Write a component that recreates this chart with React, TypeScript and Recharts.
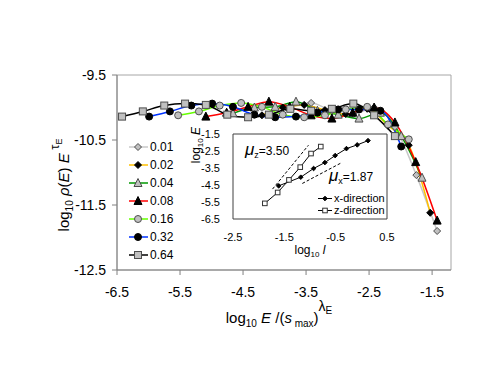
import React from 'react';
import { LineChart, Line, XAxis, YAxis, ReferenceArea } from 'recharts';

// main chart: log10 E/(s_max)^lambda vs log10 p(E) E^tau, one list pair per size
const xTicks = [-6.5, -5.5, -4.5, -3.5, -2.5, -1.5];
const yTicks = [-12.5, -11.5, -10.5, -9.5];

const x001 = [-3.75, -3.42, -3.09, -2.75, -2.42, -2.09, -1.75, -1.42];
const y001 = [-10.0, -9.93, -10.05, -10.1, -10.0, -10.3, -11.04, -11.9];
const x002 = [-4.2, -3.87, -3.53, -3.2, -2.87, -2.53, -2.2, -1.87, -1.53];
const y002 = [-10.12, -10.0, -9.96, -10.04, -10.1, -10.02, -10.28, -10.58, -11.62];
const x004 = [-4.66, -4.32, -3.99, -3.66, -3.32, -2.99, -2.66, -2.32, -1.99, -1.66];
const y004 = [-10.09, -10.0, -9.99, -9.91, -10.05, -10.11, -10.17, -10.08, -10.44, -11.08];
const x008 = [-5.09, -4.76, -4.42, -4.09, -3.76, -3.42, -3.09, -2.76, -2.42, -2.09, -1.76, -1.42];
const y008 = [-10.14, -10.08, -9.99, -9.91, -9.99, -10.12, -10.17, -10.08, -10.0, -10.23, -10.84, -11.74];
const x016 = [-5.53, -5.2, -4.87, -4.53, -4.2, -3.87, -3.53, -3.2, -2.87, -2.53, -2.2, -1.87];
const y016 = [-10.12, -10.06, -9.97, -9.93, -9.99, -10.11, -10.15, -10.12, -10.03, -9.99, -10.26, -10.49];
const x032 = [-5.99, -5.66, -5.32, -4.99, -4.66, -4.32, -3.99, -3.66, -3.32, -2.99, -2.66, -2.32, -1.99];
const y032 = [-10.14, -10.06, -9.97, -9.94, -9.99, -10.11, -10.15, -10.14, -10.08, -10.03, -10.03, -10.05, -10.6];
const x064 = [-6.42, -6.09, -5.75, -5.42, -5.09, -4.75, -4.42, -4.09, -3.75, -3.42, -3.09, -2.75, -2.42, -2.09];
const y064 = [-10.14, -10.06, -9.97, -9.94, -9.96, -10.11, -10.15, -10.11, -10.02, -10.05, -10.02, -9.94, -10.12, -10.44];

// inset: log10 l vs log10 E
const insetXTicks = [-2.5, -1.5, -0.5, 0.5];
const insetYTicks = [-6.5, -5.5, -4.5, -3.5, -2.5, -1.5];
const xDirL = [-1.61, -1.18, -0.93, -0.71, -0.51, -0.29, -0.08, 0.13];
const xDirE = [-4.55, -4.04, -3.53, -3.18, -2.77, -2.36, -2.14, -1.89];
const zDirL = [-1.88, -1.63, -1.41, -1.19, -0.98, -0.79];
const zDirE = [-5.58, -4.94, -4.2, -3.45, -2.65, -2.24];
const zFitL = [-1.73, -1.03];
const zFitE = [-4.74, -2.16];
const xFitL = [-1.15, -0.38];
const xFitE = [-4.41, -3.18];

const pairs = (xs: number[], ys: number[]) => xs.map((x, i) => ({ x, y: ys[i] }));

const FONT = '"Liberation Sans", Arial, sans-serif';
const GREY = '#c0c0c0';
const EDGE = '#4d4d4d';

type Shape = 'diamond' | 'triangle' | 'circle' | 'square';

const drawMarker = (shape: Shape, cx: number, cy: number, fill: string, stroke: string, r: number, key?: any) => {
  if (shape === 'circle') return <circle key={key} cx={cx} cy={cy} r={r} fill={fill} stroke={stroke} />;
  if (shape === 'square')
    return <rect key={key} x={cx - r} y={cy - r} width={2 * r} height={2 * r} fill={fill} stroke={stroke} />;
  if (shape === 'triangle')
    return (
      <polygon key={key} points={`${cx},${cy - r - 0.5} ${cx + r},${cy + r - 0.5} ${cx - r},${cy + r - 0.5}`} fill={fill} stroke={stroke} />
    );
  return <polygon key={key} points={`${cx},${cy - r} ${cx + r},${cy} ${cx},${cy + r} ${cx - r},${cy}`} fill={fill} stroke={stroke} />;
};

const dotFn = (shape: Shape, fill: string, stroke: string, r: number) => (p: any) => {
  if (p.cx == null || p.cy == null) return <g key={p.index} />;
  return drawMarker(shape, p.cx, p.cy, fill, stroke, r, p.index);
};

const series = [
  { name: '0.01', data: pairs(x001, y001), color: '#c8c8c8', shape: 'diamond' as Shape, fill: GREY, r: 3.5 },
  { name: '0.02', data: pairs(x002, y002), color: '#ffc000', shape: 'diamond' as Shape, fill: '#000', r: 3.5 },
  { name: '0.04', data: pairs(x004, y004), color: '#009900', shape: 'triangle' as Shape, fill: GREY, r: 4 },
  { name: '0.08', data: pairs(x008, y008), color: '#ff0000', shape: 'triangle' as Shape, fill: '#000', r: 4 },
  { name: '0.16', data: pairs(x016, y016), color: '#66ff00', shape: 'circle' as Shape, fill: GREY, r: 3.5 },
  { name: '0.32', data: pairs(x032, y032), color: '#0033ff', shape: 'circle' as Shape, fill: '#000', r: 3.5 },
  { name: '0.64', data: pairs(x064, y064), color: '#000000', shape: 'square' as Shape, fill: GREY, r: 3.5 },
];

const fmt = (v: number) => v.toFixed(1);

const Inset = () => (
  <div style={{ position: 'absolute', left: 185, top: 125 }}>
    <LineChart width={215} height={140} margin={{ top: 9, right: 13, bottom: 26, left: 0 }}>
      <XAxis
        type="number"
        dataKey="x"
        domain={[-2.5, 0.5]}
        ticks={insetXTicks}
        tickFormatter={fmt}
        axisLine={false}
        tickLine={false}
        tickSize={0}
        tickMargin={14}
        height={20}
        tick={{ fontSize: 11, fill: '#000', fontFamily: FONT }}
        allowDataOverflow
      />
      <YAxis
        type="number"
        domain={[-6.5, -1.5]}
        ticks={insetYTicks}
        tickFormatter={fmt}
        axisLine={false}
        tickLine={false}
        tickSize={0}
        tickMargin={13}
        width={48}
        interval={0}
        tick={{ fontSize: 11, fill: '#000', fontFamily: FONT }}
        allowDataOverflow
      />
      <ReferenceArea x1={-2.5} x2={0.5} y1={-6.5} y2={-1.5} fill="#fff" fillOpacity={1} stroke="#404040" strokeWidth={1} />
      <Line data={pairs(zFitL, zFitE)} dataKey="y" stroke="#000" strokeWidth={1} strokeDasharray="3 2" dot={false} isAnimationActive={false} />
      <Line data={pairs(xFitL, xFitE)} dataKey="y" stroke="#000" strokeWidth={1} strokeDasharray="3 2" dot={false} isAnimationActive={false} />
      <Line data={pairs(xDirL, xDirE)} dataKey="y" stroke="#000" strokeWidth={1} dot={dotFn('diamond', '#000', '#000', 2.3)} isAnimationActive={false} />
      <Line data={pairs(zDirL, zDirE)} dataKey="y" stroke="#000" strokeWidth={1} dot={dotFn('square', '#fff', '#333', 2.3)} isAnimationActive={false} />
    </LineChart>
  </div>
);

const abs = (left: number, top: number, extra: React.CSSProperties = {}): React.CSSProperties => ({
  position: 'absolute',
  left,
  top,
  fontFamily: FONT,
  whiteSpace: 'nowrap',
  lineHeight: 1,
  color: '#000',
  ...extra,
});

const lift = (px: number, size: number, extra: React.CSSProperties = {}): React.CSSProperties => ({
  position: 'relative',
  top: px,
  fontSize: size,
  ...extra,
});

export default function App() {
  return (
    <div style={{ position: 'absolute', left: 0, top: 0, width: 491, height: 379, background: '#fff' }}>
      <LineChart width={491} height={379} margin={{ top: 75, right: 40, bottom: 79, left: 0 }}>
        <XAxis
          type="number"
          dataKey="x"
          domain={[-6.5, -1.2]}
          ticks={xTicks}
          tickFormatter={fmt}
          stroke="#808080"
          tickSize={5}
          tickMargin={12}
          height={30}
          interval={0}
          tick={{ fontSize: 14, fill: '#000', fontFamily: FONT }}
          allowDataOverflow
        />
        <YAxis
          type="number"
          domain={[-12.5, -9.5]}
          ticks={yTicks}
          tickFormatter={fmt}
          stroke="#808080"
          tickSize={5}
          tickMargin={6}
          width={117}
          interval={0}
          tick={{ fontSize: 14, fill: '#000', fontFamily: FONT }}
          allowDataOverflow
        />
        <ReferenceArea x1={-6.5} x2={-1.2} y1={-12.5} y2={-9.5} fill="none" stroke="#a6a6a6" strokeWidth={1} />
        {series.map((s) => (
          <Line
            key={s.name}
            data={s.data}
            dataKey="y"
            type="monotone"
            stroke={s.color}
            strokeWidth={1.5}
            dot={dotFn(s.shape, s.fill, s.fill === '#000' ? '#000' : EDGE, s.r)}
            isAnimationActive={false}
          />
        ))}
      </LineChart>

      <Inset />

      {/* legend */}
      <svg width={491} height={379} style={{ position: 'absolute', left: 0, top: 0, pointerEvents: 'none' }}>
        {series.map((s, i) => {
          const y = 147 + i * 18;
          return (
            <g key={s.name}>
              <line x1={129} x2={148} y1={y} y2={y} stroke={s.color} strokeWidth={1.5} />
              {drawMarker(s.shape, 138, y, s.fill, s.fill === '#000' ? '#000' : EDGE, s.r)}
              <text x={150} y={y} dy="0.35em" fontSize={12} fontFamily={FONT} fill="#000">
                {s.name}
              </text>
            </g>
          );
        })}
        <line x1={318} x2={332} y1={198.5} y2={198.5} stroke="#000" strokeWidth={1} />
        {drawMarker('diamond', 325, 198.5, '#000', '#000', 2.3)}
        <text x={334} y={198.5} dy="0.35em" fontSize={11} fontFamily={FONT}>x-direction</text>
        <line x1={318} x2={332} y1={210.5} y2={210.5} stroke="#000" strokeWidth={1} />
        {drawMarker('square', 325, 210.5, '#fff', '#333', 2.3)}
        <text x={334} y={210.5} dy="0.35em" fontSize={11} fontFamily={FONT}>z-direction</text>
      </svg>

      {/* inset annotations */}
      <div style={abs(245, 141, { fontSize: 12 })}>
        <span style={{ fontSize: 17, fontStyle: 'italic' }}>μ</span>
        <span style={lift(3, 9)}>z</span>=3.50
      </div>
      <div style={abs(329, 167, { fontSize: 12 })}>
        <span style={{ fontSize: 17, fontStyle: 'italic' }}>μ</span>
        <span style={lift(3, 9)}>x</span>=1.87
      </div>
      <div style={abs(310, 244, { fontSize: 12, transform: 'translateX(-50%)' })}>
        log<span style={lift(3, 8)}>10</span> <i>l</i>
      </div>
      <div style={abs(196, 145, { fontSize: 12, transform: 'translate(-50%, -50%) rotate(-90deg)' })}>
        log<span style={lift(3, 8)}>10</span> <i>E</i>
      </div>

      {/* axis titles */}
      <div style={abs(279, 310, { fontSize: 15, transform: 'translateX(-50%)' })}>
        log<span style={lift(4, 10)}>10</span> <i>E</i> /(<i>s</i>
        <span style={lift(4, 10)}> max</span>)
        <span style={lift(-12, 14)}>λ</span>
        <span style={lift(-9, 10)}>E</span>
      </div>
      <div style={abs(63, 185, { fontSize: 15, transform: 'translate(-50%, -50%) rotate(-90deg)' })}>
        log<span style={lift(4, 10)}>10</span> <i>ρ</i>(<i>E</i>) <i>E</i>
        <span style={lift(-10, 13)}> τ</span>
        <span style={lift(-7, 9)}>E</span>
      </div>
    </div>
  );
}
